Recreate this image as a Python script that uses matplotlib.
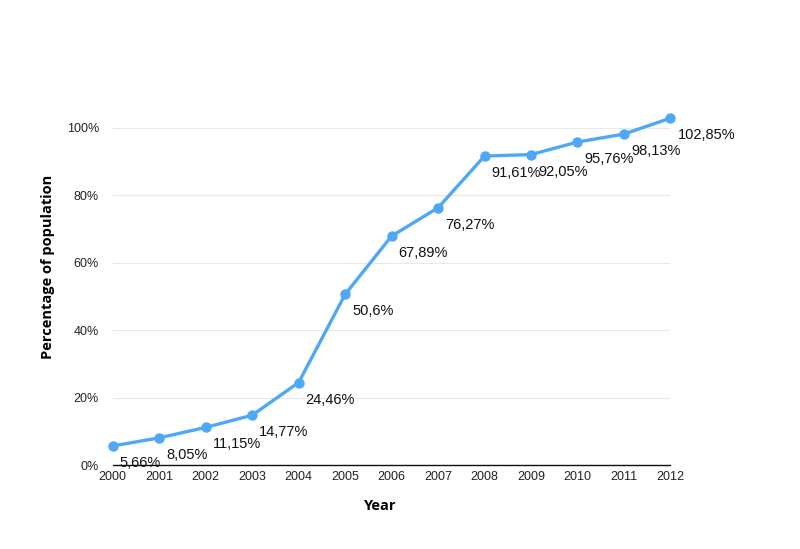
import matplotlib.pyplot as plt
from matplotlib.ticker import FuncFormatter

years = [2000, 2001, 2002, 2003, 2004, 2005, 2006, 2007, 2008, 2009, 2010, 2011, 2012]
values = [5.66, 8.05, 11.15, 14.77, 24.46, 50.6, 67.89, 76.27, 91.61, 92.05, 95.76, 98.13, 102.85]
labels = ['5,66%', '8,05%', '11,15%', '14,77%', '24,46%', '50,6%', '67,89%',
          '76,27%', '91,61%', '92,05%', '95,76%', '98,13%', '102,85%']

plt.rcParams['font.family'] = ['Liberation Sans', 'DejaVu Sans']

fig = plt.figure(figsize=(8, 5.49), dpi=100)
ax = fig.add_axes([0.141, 0.153, 0.697, 0.645])

ax.plot(years, values, color='#4fa8f5', lw=2.4, marker='o', ms=6.5,
        clip_on=False, zorder=3)
for x, y, t in zip(years, values, labels):
    ax.annotate(t, (x, y), xytext=(7, -10), textcoords='offset pixels',
                ha='left', va='top', fontsize=10.5, color='#111111')

ax.set_xlim(2000, 2012)
ax.set_ylim(0, 105)
ax.set_xticks(years)
ax.set_yticks([0, 20, 40, 60, 80, 100])
ax.yaxis.set_major_formatter(FuncFormatter(lambda v, p: f'{int(v)}%'))
ax.tick_params(length=0, labelsize=9, colors='#222222')
ax.tick_params(axis='y', pad=10)
ax.tick_params(axis='x', pad=4)
ax.grid(axis='y', color='#e8e8e8', lw=0.8)
ax.set_axisbelow(True)
for s in ['left', 'right', 'top']:
    ax.spines[s].set_visible(False)
ax.spines['bottom'].set_color('#111111')
ax.spines['bottom'].set_linewidth(1.0)

ax.set_xlabel('Year', fontsize=10.5, fontweight='bold', family='Open Sans')
ax.set_ylabel('Percentage of population', fontsize=10.5, fontweight='bold',
              family='Open Sans')
ax.xaxis.set_label_coords(0.479, -0.095)
ax.yaxis.set_label_coords(-0.104, 0.56)

fig.savefig('out.png', dpi=100)
